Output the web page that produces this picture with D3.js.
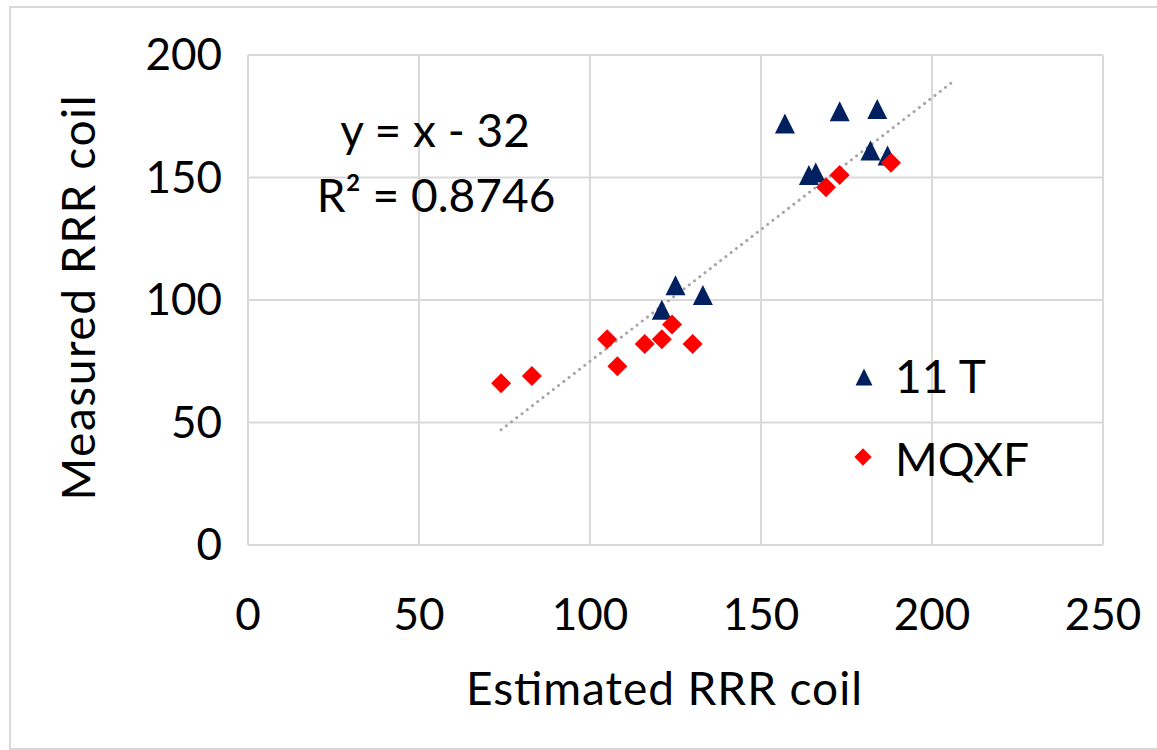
<!DOCTYPE html>
<html>
<head>
<meta charset="utf-8">
<script src="https://cdn.jsdelivr.net/npm/d3@7"></script>
<style>
  body { margin: 0; background: #fff; }
  text { font-family: Lato, "Open Sans", sans-serif; fill: #000; }
</style>
</head>
<body>
<svg id="chart" width="1157" height="750"></svg>
<script>
// 11 T series
const t11X = [157, 173, 184, 164, 166, 182, 187, 125, 121, 133];
const t11Y = [172, 177, 178, 151, 152, 161, 159, 106, 96, 102];

// MQXF series
const mqxfX = [74, 83, 105, 108, 116, 121, 124, 130, 169, 173, 188];
const mqxfY = [66, 69, 84, 73, 82, 84, 90, 82, 146, 151, 156];

// trendline endpoints (dotted)
const trendX = [74, 206];
const trendY = [47, 189];

const xTicks = [0, 50, 100, 150, 200, 250];
const yTicks = [0, 50, 100, 150, 200];

const svg = d3.select("#chart");

const margin = { left: 248, right: 1103, top: 55, bottom: 545 };

const x = d3.scaleLinear().domain([0, 250]).range([margin.left, margin.right]);
const y = d3.scaleLinear().domain([0, 200]).range([margin.bottom, margin.top]);

// triangle as wide as it is tall, size = width in px
const triangle = {
  draw(context, size) {
    const h = size / 2;
    context.moveTo(0, -h);
    context.lineTo(h, h);
    context.lineTo(-h, h);
    context.closePath();
  },
};

// outer chart border
svg.append("rect")
  .attr("x", 10).attr("y", 7)
  .attr("width", 1160).attr("height", 742)
  .attr("fill", "none")
  .attr("stroke", "#d9d9d9")
  .attr("stroke-width", 2);

// gridlines
svg.append("g")
  .selectAll("line")
  .data(xTicks)
  .enter()
  .append("line")
  .attr("x1", (d) => x(d)).attr("x2", (d) => x(d))
  .attr("y1", y(0)).attr("y2", y(200))
  .attr("stroke", "#d9d9d9")
  .attr("stroke-width", 2);

svg.append("g")
  .selectAll("line")
  .data(yTicks)
  .enter()
  .append("line")
  .attr("x1", x(0)).attr("x2", x(250))
  .attr("y1", (d) => y(d)).attr("y2", (d) => y(d))
  .attr("stroke", "#d9d9d9")
  .attr("stroke-width", 2);

// tick labels
svg.append("g")
  .selectAll("text")
  .data(xTicks)
  .enter()
  .append("text")
  .attr("x", (d) => x(d))
  .attr("y", 630)
  .attr("text-anchor", "middle")
  .style("font-size", "44px")
  .text((d) => d);

svg.append("g")
  .selectAll("text")
  .data(yTicks)
  .enter()
  .append("text")
  .attr("x", 222)
  .attr("y", (d) => y(d) + 15)
  .attr("text-anchor", "end")
  .style("font-size", "44px")
  .text((d) => d);

// axis titles
svg.append("text")
  .attr("x", 664)
  .attr("y", 705)
  .attr("text-anchor", "middle")
  .style("font-size", "46px")
  .attr("textLength", 396)
  .text("Estimated RRR coil");

svg.append("text")
  .attr("transform", "translate(95, 298) rotate(-90)")
  .attr("text-anchor", "middle")
  .style("font-size", "46px")
  .attr("textLength", 405)
  .text("Measured RRR coil");

// trendline
svg.append("line")
  .attr("x1", x(trendX[0])).attr("y1", y(trendY[0]))
  .attr("x2", x(trendX[1])).attr("y2", y(trendY[1]))
  .attr("stroke", "#a6a6a6")
  .attr("stroke-width", 3)
  .attr("stroke-linecap", "round")
  .attr("stroke-dasharray", "0.1 6.5");

// markers
const tri = d3.symbol().type(triangle).size(20);
const dia = d3.symbol().type(d3.symbolSquare).size(200);

svg.append("g")
  .selectAll("path")
  .data(d3.range(t11X.length))
  .enter()
  .append("path")
  .attr("d", tri)
  .attr("transform", (i) => `translate(${x(t11X[i])},${y(t11Y[i])})`)
  .attr("fill", "#002060");

svg.append("g")
  .selectAll("path")
  .data(d3.range(mqxfX.length))
  .enter()
  .append("path")
  .attr("d", dia)
  .attr("transform", (i) => `translate(${x(mqxfX[i])},${y(mqxfY[i])}) rotate(45)`)
  .attr("fill", "#ff0000");

// equation label
svg.append("text")
  .attr("x", 435).attr("y", 147)
  .attr("text-anchor", "middle")
  .style("font-size", "46px")
  .text("y = x - 32");

svg.append("text")
  .attr("x", 436).attr("y", 212)
  .attr("text-anchor", "middle")
  .style("font-size", "46px")
  .text("R² = 0.8746");

// legend
const legend = svg.append("g");
legend.append("path")
  .attr("d", d3.symbol().type(triangle).size(17))
  .attr("transform", "translate(864,377)")
  .attr("fill", "#002060");
legend.append("text")
  .attr("x", 895).attr("y", 393)
  .style("font-size", "46px")
  .text("11 T");
legend.append("path")
  .attr("d", d3.symbol().type(d3.symbolSquare).size(150))
  .attr("transform", "translate(863,457) rotate(45)")
  .attr("fill", "#ff0000");
legend.append("text")
  .attr("x", 895).attr("y", 476)
  .style("font-size", "46px")
  .text("MQXF");
</script>
</body>
</html>
